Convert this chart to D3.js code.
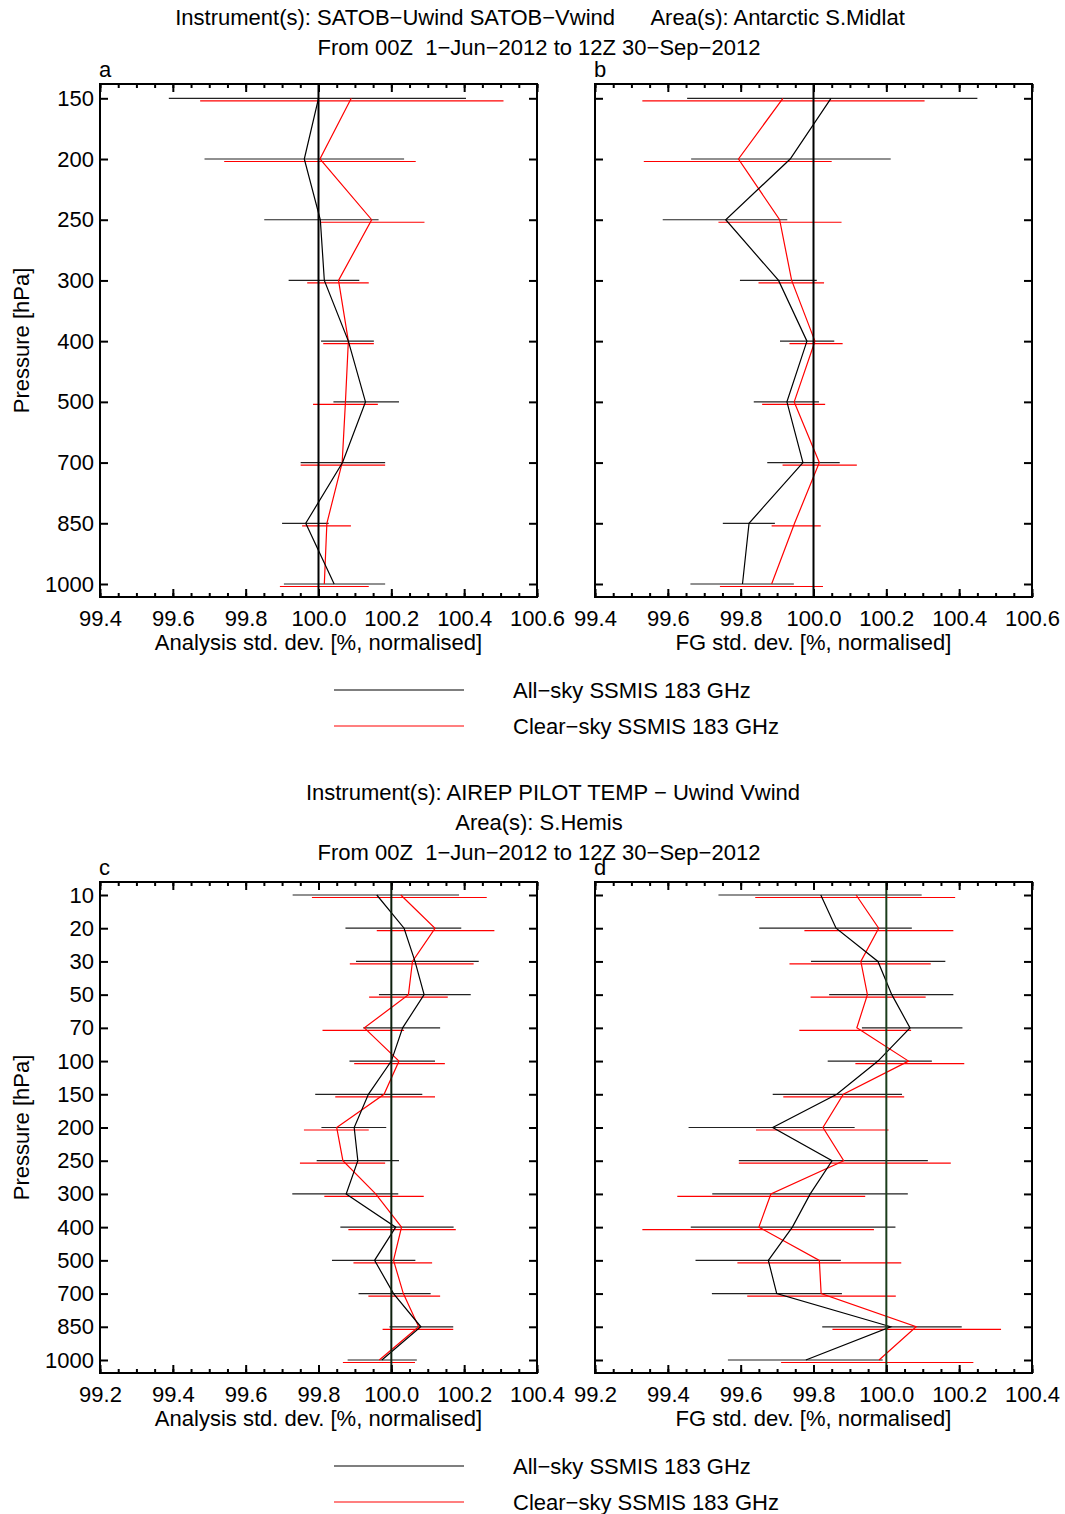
<!DOCTYPE html>
<html>
<head>
<meta charset="utf-8">
<script src="https://cdn.jsdelivr.net/npm/d3@7"></script>
<style>
  body { margin: 0; background: #fff; }
  text { font-family: "Liberation Sans", Arial, sans-serif; }
</style>
</head>
<body>
<svg id="chart" width="1065" height="1514"></svg>
<script>
// pressure levels
const levelsTop = ["150", "200", "250", "300", "400", "500", "700", "850", "1000"];
const levelsBottom = ["10", "20", "30", "50", "70", "100", "150", "200", "250", "300", "400", "500", "700", "850", "1000"];

// panel a - analysis, SATOB
const aAll = [100.0, 99.961, 100.005, 100.016, 100.082, 100.129, 100.066, 99.965, 100.043];
const aAllLo = [99.589, 99.687, 99.851, 99.918, 100.007, 100.041, 99.951, 99.9, 99.905];
const aAllHi = [100.405, 100.235, 100.165, 100.112, 100.152, 100.221, 100.183, 100.028, 100.183];
const aClr = [100.09, 100.004, 100.146, 100.055, 100.082, 100.074, 100.065, 100.023, 100.016];
const aClrLo = [99.675, 99.741, 100.004, 99.969, 100.013, 99.985, 99.951, 99.955, 99.894];
const aClrHi = [100.508, 100.267, 100.291, 100.138, 100.152, 100.163, 100.183, 100.089, 100.138];

// panel b - FG, SATOB
const bAll = [100.048, 99.936, 99.759, 99.904, 99.982, 99.927, 99.971, 99.823, 99.805];
const bAllLo = [99.653, 99.664, 99.586, 99.798, 99.908, 99.836, 99.873, 99.751, 99.662];
const bAllHi = [100.45, 100.212, 99.928, 100.009, 100.057, 100.015, 100.072, 99.894, 99.946];
const bClr = [99.916, 99.794, 99.907, 99.94, 100.004, 99.947, 100.016, 99.948, 99.885];
const bClrLo = [99.53, 99.534, 99.739, 99.849, 99.934, 99.859, 99.915, 99.885, 99.743];
const bClrHi = [100.305, 100.05, 100.077, 100.029, 100.08, 100.032, 100.119, 100.02, 100.026];

// panel c - analysis, conventional
const cAll = [99.96, 100.035, 100.065, 100.09, 100.031, 100.0, 99.937, 99.898, 99.908, 99.876, 100.012, 99.954, 100.006, 100.081, 99.974];
const cAllLo = [99.729, 99.874, 99.903, 99.966, 99.923, 99.885, 99.791, 99.808, 99.795, 99.728, 99.86, 99.837, 99.91, 99.995, 99.88];
const cAllHi = [100.186, 100.192, 100.24, 100.218, 100.134, 100.12, 100.085, 99.986, 100.021, 100.019, 100.171, 100.066, 100.108, 100.17, 100.07];
const cClr = [100.026, 100.12, 100.058, 100.047, 99.926, 100.021, 99.98, 99.85, 99.867, 99.957, 100.028, 100.006, 100.033, 100.075, 99.967];
const cClrLo = [99.782, 99.96, 99.886, 99.939, 99.811, 99.898, 99.846, 99.76, 99.749, 99.816, 99.882, 99.896, 99.937, 99.976, 99.867];
const cClrHi = [100.262, 100.283, 100.226, 100.155, 100.035, 100.147, 100.12, 99.938, 99.983, 100.089, 100.177, 100.112, 100.134, 100.17, 100.065];

// panel d - FG, conventional
const dAll = [99.82, 99.862, 99.977, 100.015, 100.065, 99.977, 99.864, 99.688, 99.851, 99.791, 99.742, 99.676, 99.699, 100.012, 99.779];
const dAllLo = [99.539, 99.651, 99.793, 99.843, 99.933, 99.839, 99.688, 99.457, 99.595, 99.522, 99.463, 99.476, 99.521, 99.824, 99.565];
const dAllHi = [100.097, 100.07, 100.162, 100.184, 100.209, 100.125, 100.043, 99.913, 100.114, 100.059, 100.025, 99.875, 99.878, 100.207, 99.99];
const dClr = [99.917, 99.979, 99.93, 99.948, 99.919, 100.061, 99.882, 99.826, 99.883, 99.683, 99.65, 99.816, 99.821, 100.082, 99.98];
const dClrLo = [99.64, 99.775, 99.734, 99.792, 99.761, 99.915, 99.717, 99.642, 99.595, 99.426, 99.33, 99.591, 99.618, 99.852, 99.711];
const dClrHi = [100.189, 100.184, 100.122, 100.108, 100.068, 100.214, 100.049, 100.006, 100.177, 99.942, 99.966, 100.041, 100.026, 100.315, 100.239];

const seriesNames = ["All\u2212sky SSMIS 183 GHz", "Clear\u2212sky SSMIS 183 GHz"];

const svg = d3.select("#chart");
svg.append("rect").attr("width", 1065).attr("height", 1514).attr("fill", "#fff");

const FONT = 22;

function drawPanel(p) {
  const x = d3.scaleLinear().domain(p.domain).range([p.left, p.right]);
  const y = d3.scalePoint().domain(p.levels).range(p.yRange);
  const g = svg.append("g");

  const rows = p.levels.map((lev, i) => ({
    lev,
    all: p.all[i], allLo: p.allLo[i], allHi: p.allHi[i],
    clr: p.clr[i], clrLo: p.clrLo[i], clrHi: p.clrHi[i]
  }));

  // error bars
  g.selectAll(".bar-all")
    .data(rows)
    .join("line")
    .attr("x1", (d) => x(d.allLo))
    .attr("x2", (d) => x(d.allHi))
    .attr("y1", (d) => y(d.lev))
    .attr("y2", (d) => y(d.lev))
    .attr("stroke", "#222")
    .attr("stroke-width", 1.2);

  g.selectAll(".bar-clr")
    .data(rows)
    .join("line")
    .attr("x1", (d) => x(d.clrLo))
    .attr("x2", (d) => x(d.clrHi))
    .attr("y1", (d) => y(d.lev) + 2.5)
    .attr("y2", (d) => y(d.lev) + 2.5)
    .attr("stroke", "#f00")
    .attr("stroke-width", 1.2);

  // profiles
  const lineAll = d3.line().x((d) => x(d.all)).y((d) => y(d.lev));
  const lineClr = d3.line().x((d) => x(d.clr)).y((d) => y(d.lev));

  g.append("path").datum(rows).attr("d", lineClr)
    .attr("fill", "none").attr("stroke", "#f00").attr("stroke-width", 1.2);
  g.append("path").datum(rows).attr("d", lineAll)
    .attr("fill", "none").attr("stroke", "#000").attr("stroke-width", 1.2);

  // reference line at 100
  g.append("line")
    .attr("x1", x(100)).attr("x2", x(100))
    .attr("y1", p.top).attr("y2", p.bottom)
    .attr("stroke", p.refColor)
    .attr("stroke-width", 2);

  // axes, ticks pointing inward
  const majorTicks = d3.range(p.domain[0], p.domain[1] + 0.001, 0.2);
  const minorTicks = d3.range(p.domain[0], p.domain[1] + 0.001, 0.05);

  const bottomAxis = g.append("g")
    .attr("transform", `translate(0,${p.bottom})`)
    .call(d3.axisBottom(x).tickValues(majorTicks).tickFormat(d3.format(".1f")).tickSize(-8).tickPadding(13));
  const bottomMinor = g.append("g")
    .attr("transform", `translate(0,${p.bottom})`)
    .call(d3.axisBottom(x).tickValues(minorTicks).tickFormat("").tickSize(-4));
  const topAxis = g.append("g")
    .attr("transform", `translate(0,${p.top})`)
    .call(d3.axisTop(x).tickValues(majorTicks).tickFormat("").tickSize(-8));
  const topMinor = g.append("g")
    .attr("transform", `translate(0,${p.top})`)
    .call(d3.axisTop(x).tickValues(minorTicks).tickFormat("").tickSize(-4));
  const leftAxis = g.append("g")
    .attr("transform", `translate(${p.left},0)`)
    .call(d3.axisLeft(y).tickSize(-8).tickPadding(6).tickFormat(p.yLabels ? (d) => d : ""));
  const rightAxis = g.append("g")
    .attr("transform", `translate(${p.right},0)`)
    .call(d3.axisRight(y).tickSize(-8).tickFormat(""));

  [bottomAxis, bottomMinor, topAxis, topMinor, leftAxis, rightAxis].forEach((a) => {
    a.select(".domain").remove();
    a.selectAll(".tick line").attr("stroke", "#000").attr("stroke-width", 2);
    a.selectAll(".tick text")
      .attr("font-family", "Liberation Sans, Arial, sans-serif")
      .attr("font-size", FONT)
      .attr("fill", "#000");
  });

  // frame
  g.append("rect")
    .attr("x", p.left).attr("y", p.top)
    .attr("width", p.right - p.left).attr("height", p.bottom - p.top)
    .attr("fill", "none").attr("stroke", "#000").attr("stroke-width", 2);

  g.append("text")
    .attr("x", p.left - 1).attr("y", p.top - 7)
    .attr("font-size", FONT).text(p.letter);

  g.append("text")
    .attr("x", (p.left + p.right) / 2).attr("y", p.bottom + 53)
    .attr("text-anchor", "middle").attr("font-size", FONT).text(p.xTitle);

  if (p.yLabels) {
    g.append("text")
      .attr("transform", `translate(29,${(p.top + p.bottom) / 2}) rotate(-90)`)
      .attr("text-anchor", "middle").attr("font-size", FONT).text("Pressure [hPa]");
  }
}

function drawLegend(y0) {
  const leg = svg.append("g");
  leg.selectAll("g")
    .data(seriesNames)
    .join("g")
    .attr("transform", (d, i) => `translate(0,${y0 + i * 36})`)
    .each(function (d, i) {
      d3.select(this).append("line")
        .attr("x1", 334).attr("x2", 464).attr("y1", 0).attr("y2", 0)
        .attr("stroke", i === 0 ? "#000" : "#f00").attr("stroke-width", 1.2);
      d3.select(this).append("text")
        .attr("x", 513).attr("y", 8)
        .attr("font-size", FONT).text(d);
    });
}

function title(lines, y0) {
  svg.append("g").selectAll("text")
    .data(lines)
    .join("text")
    .attr("x", (d) => d.x)
    .attr("y", (d, i) => y0 + i * 30)
    .attr("text-anchor", "middle")
    .attr("font-size", FONT)
    .attr("xml:space", "preserve")
    .text((d) => d.t);
}

title([
  { t: "Instrument(s): SATOB\u2212Uwind SATOB\u2212Vwind      Area(s): Antarctic S.Midlat", x: 540 },
  { t: "From 00Z  1\u2212Jun\u22122012 to 12Z 30\u2212Sep\u22122012", x: 539 }
], 25);

title([
  { t: "Instrument(s): AIREP PILOT TEMP \u2212 Uwind Vwind", x: 553 },
  { t: "Area(s): S.Hemis", x: 539 },
  { t: "From 00Z  1\u2212Jun\u22122012 to 12Z 30\u2212Sep\u22122012", x: 539 }
], 800);

drawPanel({
  letter: "a", left: 100, right: 537, top: 84, bottom: 597, yRange: [98.3, 584],
  domain: [99.4, 100.6], levels: levelsTop, yLabels: true, refColor: "#000",
  xTitle: "Analysis std. dev. [%, normalised]",
  all: aAll, allLo: aAllLo, allHi: aAllHi, clr: aClr, clrLo: aClrLo, clrHi: aClrHi
});
drawPanel({
  letter: "b", left: 595, right: 1032, top: 84, bottom: 597, yRange: [98.3, 584],
  domain: [99.4, 100.6], levels: levelsTop, yLabels: false, refColor: "#000",
  xTitle: "FG std. dev. [%, normalised]",
  all: bAll, allLo: bAllLo, allHi: bAllHi, clr: bClr, clrLo: bClrLo, clrHi: bClrHi
});
drawPanel({
  letter: "c", left: 100, right: 537, top: 882, bottom: 1373, yRange: [895, 1360],
  domain: [99.2, 100.4], levels: levelsBottom, yLabels: true, refColor: "#0d1f0d",
  xTitle: "Analysis std. dev. [%, normalised]",
  all: cAll, allLo: cAllLo, allHi: cAllHi, clr: cClr, clrLo: cClrLo, clrHi: cClrHi
});
drawPanel({
  letter: "d", left: 595, right: 1032, top: 882, bottom: 1373, yRange: [895, 1360],
  domain: [99.2, 100.4], levels: levelsBottom, yLabels: false, refColor: "#1b3d1b",
  xTitle: "FG std. dev. [%, normalised]",
  all: dAll, allLo: dAllLo, allHi: dAllHi, clr: dClr, clrLo: dClrLo, clrHi: dClrHi
});

drawLegend(690);
drawLegend(1466);
</script>
</body>
</html>
